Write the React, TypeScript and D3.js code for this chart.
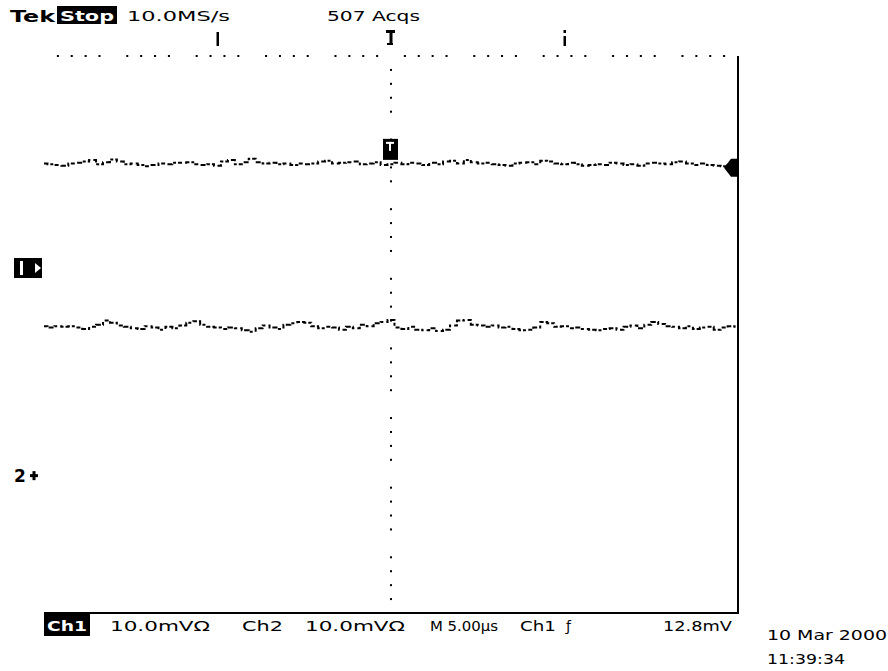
import React from "react";
import * as d3 from "d3";

// time axis (µs), 5 µs/div, trigger at centre
const timeStart = -25;
const timeStep = 0.5;

// Ch1 trace (mV), 10 mV/div
const ch1Values = [
  15.0, 14.9, 14.8, 14.7, 15.0, 15.1, 15.3, 15.5, 14.9, 15.2,
  15.6, 15.3, 14.9, 15.0, 14.8, 14.6, 14.8, 15.0, 14.9, 15.1,
  15.1, 15.2, 14.9, 14.8, 14.9, 14.7, 15.3, 15.5, 14.9, 15.2,
  15.7, 15.2, 15.0, 15.1, 14.9, 15.0, 14.8, 15.0, 14.9, 15.0,
  15.3, 15.4, 15.0, 15.1, 15.2, 15.3, 14.9, 15.0, 15.2, 14.8,
  14.9, 15.1, 14.9, 15.1, 15.0, 14.8, 15.1, 14.9, 15.3, 15.4,
  15.0, 15.5, 15.2, 15.0, 15.1, 14.9, 14.8, 14.7, 15.0, 15.1,
  15.2, 14.9, 15.4, 15.3, 15.0, 14.9, 15.1, 14.9, 14.7, 14.8,
  14.9, 14.8, 15.1, 15.0, 14.8, 14.9, 14.7, 15.0, 15.1, 15.0,
  14.9, 15.2, 15.3, 15.0, 14.8, 15.0, 14.8, 14.7, 14.6, 14.8,
  14.9,
];

// Ch2 trace (mV), 10 mV/div
const ch2Values = [
  21.4, 21.2, 21.4, 21.3, 21.4, 21.2, 21.0, 21.3, 21.6, 22.2,
  21.9, 21.5, 21.3, 21.1, 21.0, 21.4, 21.2, 20.9, 21.3, 21.1,
  21.5, 21.9, 22.1, 21.6, 21.3, 21.2, 21.0, 21.2, 21.1, 20.8,
  20.6, 21.1, 21.5, 21.2, 21.0, 21.6, 21.8, 22.0, 21.9, 21.4,
  21.1, 21.3, 21.2, 20.9, 21.3, 21.1, 21.6, 21.4, 21.8, 22.0,
  22.3, 21.2, 21.0, 21.3, 20.9, 20.8, 21.1, 20.7, 20.9, 21.5,
  22.2, 22.3, 21.6, 21.5, 21.3, 21.5, 21.2, 21.3, 21.0, 20.8,
  20.9, 21.2, 22.0, 21.8, 21.3, 21.4, 21.1, 21.2, 21.0, 20.9,
  20.8, 21.0, 21.1, 20.9, 21.3, 21.5, 21.1, 21.6, 22.0, 21.7,
  21.4, 21.3, 21.1, 21.4, 21.0, 21.2, 21.3, 20.9, 21.2, 21.4,
  21.3,
];

// channel ground positions (divisions from centre)
const ch1Position = 0.955;
const ch2Position = -2.02;
const voltsPerDiv = 10; // mV
const triggerLevel = 14.4; // mV (marker)

const headerLabels = ["Tek", "Stop", "10.0MS/s", "507 Acqs"];
const footerLabels = ["Ch1", "10.0mVΩ", "Ch2", "10.0mVΩ", "M 5.00µs", "Ch1", "ƒ", "12.8mV"];
const dateLabels = ["10 Mar 2000", "11:39:34"];

const W = 888;
const H = 671;

export default function App() {
  const x = d3.scaleLinear().domain([-25, 25]).range([44, 738]);
  const y = d3.scaleLinear().domain([-4, 4]).range([613, 56]);
  const ch1Y = (v: number) => y(ch1Position + v / voltsPerDiv);
  const ch2Y = (v: number) => y(ch2Position + v / voltsPerDiv);

  const t = (i: number) => timeStart + i * timeStep;
  const line1 = d3.line<number>().x((_, i) => x(t(i))).y((d) => ch1Y(d)).curve(d3.curveStep);
  const line2 = d3.line<number>().x((_, i) => x(t(i))).y((d) => ch2Y(d)).curve(d3.curveStep);

  // minor graticule ticks (5 per division, skipping majors)
  const hMinor: number[] = [];
  for (let d = -5; d < 5; d++) for (let k = 1; k < 5; k++) hMinor.push(d + k / 5);
  const vMinor: number[] = [];
  for (let d = -4; d < 4; d++) for (let k = 1; k < 5; k++) vMinor.push(d + k / 5);
  const xDiv = d3.scaleLinear().domain([-5, 5]).range([44, 738]);

  const font = "'DejaVu Sans', 'Liberation Sans', sans-serif";
  const cx = x(0);
  const tp = ch1Y(15.1);
  const tl = ch1Y(triggerLevel);

  const T = (props: any) => (
    <text fontSize={14} fill="#000" lengthAdjust="spacingAndGlyphs" {...props} />
  );

  return (
    <svg
      width={W}
      height={H}
      style={{ position: "absolute", left: 0, top: 0, background: "#fff" }}
      fontFamily={font}
    >
      <rect x={0} y={0} width={W} height={H} fill="#fff" />
      {/* header */}
      <T x={10} y={22} fontSize={15} fontWeight="bold" textLength={45}>{headerLabels[0]}</T>
      <rect x={57} y={6} width={60} height={18} fill="#000" />
      <T x={60} y={21} fontWeight="bold" fill="#fff" textLength={54}>{headerLabels[1]}</T>
      <T x={127} y={21} textLength={103}>{headerLabels[2]}</T>
      <T x={327} y={21} textLength={93}>{headerLabels[3]}</T>

      {/* top markers */}
      <rect x={x(-12.5) - 1} y={32} width={2.5} height={14} fill="#000" />
      <g fill="#000">
        <rect x={cx - 5} y={30} width={9} height={3} />
        <rect x={cx - 1.5} y={30} width={3} height={15} />
        <rect x={cx - 4} y={43} width={6} height={2} />
      </g>
      <rect x={x(12.5) - 1} y={36} width={2.5} height={10} fill="#000" />
      <rect x={x(12.5) - 1} y={30} width={2.5} height={3} fill="#000" />

      {/* graticule dots */}
      {hMinor.map((d, i) => (
        <rect key={"h" + i} x={xDiv(d) - 1} y={y(4) - 1} width={2} height={2} fill="#000" />
      ))}
      {vMinor.map((d, i) => (
        <rect key={"v" + i} x={cx - 1} y={y(d) - 1} width={2} height={2} fill="#000" />
      ))}

      {/* frame */}
      <line x1={44} x2={739} y1={y(-4)} y2={y(-4)} stroke="#000" strokeWidth={2} />
      <line x1={738} x2={738} y1={y(4)} y2={y(-4)} stroke="#000" strokeWidth={2} />

      {/* traces */}
      <path d={line1(ch1Values) || ""} fill="none" stroke="#000" strokeWidth={2} strokeDasharray="5 2 3 2 4 3" />
      <path d={line2(ch2Values) || ""} fill="none" stroke="#000" strokeWidth={2} strokeDasharray="4 2 5 2 3 3" />

      {/* trigger point box on ch1 trace */}
      <rect x={cx - 8} y={tp - 24} width={15} height={21} fill="#000" />
      <g fill="#fff">
        <rect x={cx - 5} y={tp - 21} width={8} height={2} />
        <rect x={cx - 2} y={tp - 21} width={2} height={9} />
      </g>

      {/* trigger level arrow on right */}
      <path
        d={`M${738},${tl - 9} L${738},${tl + 9} L${731},${tl + 9} L${724},${tl} L${731},${tl - 9} Z`}
        fill="#000"
      />

      {/* ground markers */}
      <rect x={14} y={y(ch1Position) - 10} width={28} height={20} fill="#000" />
      <rect x={20} y={y(ch1Position) - 7} width={3} height={14} fill="#fff" />
      <path d={`M${35},${y(ch1Position) - 5} L${41},${y(ch1Position)} L${35},${y(ch1Position) + 5} Z`} fill="#fff" />
      <T x={14} y={y(ch2Position) + 7} fontSize={17} fontWeight="bold">2</T>
      <g fill="#000">
        <rect x={30} y={y(ch2Position) - 1} width={8} height={3} />
        <rect x={32.5} y={y(ch2Position) - 4} width={3} height={9} />
      </g>

      {/* footer */}
      <rect x={44} y={614} width={46} height={22} fill="#000" />
      <T x={47} y={631} fontWeight="bold" fill="#fff" textLength={40}>{footerLabels[0]}</T>
      <T x={110} y={631} textLength={100}>{footerLabels[1]}</T>
      <T x={242} y={631} textLength={41}>{footerLabels[2]}</T>
      <T x={305} y={631} textLength={100}>{footerLabels[3]}</T>
      <T x={430} y={631} textLength={68}>{footerLabels[4]}</T>
      <T x={520} y={631} textLength={36}>{footerLabels[5]}</T>
      <T x={566} y={631}>{footerLabels[6]}</T>
      <T x={663} y={631} textLength={69}>{footerLabels[7]}</T>
      <T x={767} y={640} textLength={120}>{dateLabels[0]}</T>
      <T x={767} y={664} textLength={78}>{dateLabels[1]}</T>
    </svg>
  );
}
